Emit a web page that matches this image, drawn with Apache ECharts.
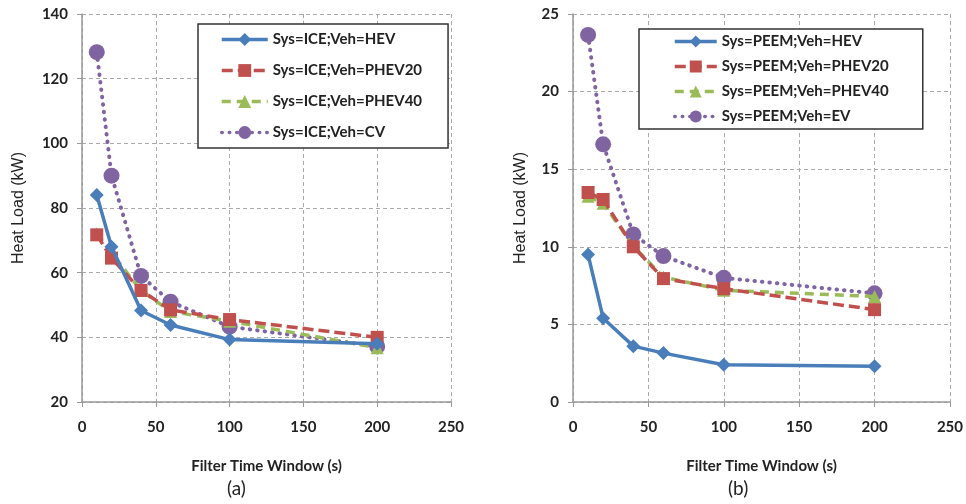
<!DOCTYPE html>
<html><head><meta charset="utf-8">
<script src="https://cdn.jsdelivr.net/npm/echarts@6/dist/echarts.min.js"></script>
<style>html,body{margin:0;padding:0;background:#fff}#c{width:966px;height:504px}</style>
</head><body><div id="c"></div>
<script>
const xVals = [10, 20, 40, 60, 100, 200];
const xTicks = [0, 50, 100, 150, 200, 250];
const iceNames = ['Sys=ICE;Veh=HEV', 'Sys=ICE;Veh=PHEV20', 'Sys=ICE;Veh=PHEV40', 'Sys=ICE;Veh=CV'];
const iceHEV = [84, 68, 48.3, 43.8, 39.3, 38];
const icePHEV20 = [71.7, 64.5, 54.5, 48.5, 45.5, 40];
const icePHEV40 = [72, 66, 54.5, 48, 45, 36.8];
const iceCV = [128.2, 90, 59, 51, 43.3, 37.2];
const peemNames = ['Sys=PEEM;Veh=HEV', 'Sys=PEEM;Veh=PHEV20', 'Sys=PEEM;Veh=PHEV40', 'Sys=PEEM;Veh=EV'];
const peemHEV = [9.5, 5.4, 3.6, 3.15, 2.4, 2.3];
const peemPHEV20 = [13.5, 13.05, 10, 7.95, 7.3, 5.95];
const peemPHEV40 = [13.25, 12.8, 10.05, 8.05, 7.2, 6.8];
const peemEV = [23.65, 16.6, 10.8, 9.4, 8.0, 7.0];
const xName = 'Filter Time Window (s)';
const yName = 'Heat Load (kW)';

const FONT = 'Lato, "Open Sans", sans-serif';
const colors = ['#4A7EBB', '#C0504D', '#9BBB59', '#8064A2'];
const styles = [
  {type: 'solid', cap: 'butt', symbol: 'diamond', size: 14},
  {type: [11, 5], cap: 'butt', symbol: 'rect', size: 13},
  {type: [9, 6], cap: 'butt', symbol: 'triangle', size: 13},
  {type: [0.5, 7], cap: 'round', symbol: 'circle', size: 16}
];
const zip = a => xVals.map((x, i) => [x, a[i]]);

function mkSeries(names, arrs, idx) {
  return arrs.map((a, i) => ({
    name: names[i], type: 'line', xAxisIndex: idx, yAxisIndex: idx,
    data: zip(a), symbol: styles[i].symbol, symbolSize: styles[i].size,
    itemStyle: {color: colors[i]},
    lineStyle: {color: colors[i], width: i === 3 ? 4 : 3.5, type: styles[i].type, cap: styles[i].cap},
    z: 10 - i, animation: false
  }));
}
function xAx(idx) {
  return {
    type: 'value', gridIndex: idx, min: 0, max: 250, interval: 50,
    name: xName, nameLocation: 'middle', nameGap: 57,
    nameTextStyle: {fontFamily: FONT, fontSize: 15, fontWeight: 'bold', color: '#222'},
    axisLine: {lineStyle: {color: '#999', width: 1.5}},
    axisTick: {show: true, length: 5, lineStyle: {color: '#999'}},
    axisLabel: {fontFamily: FONT, fontSize: 15, fontWeight: 'bold', color: '#222', margin: 18},
    splitLine: {show: true, lineStyle: {color: '#aaa', type: [4, 3], width: 1}}
  };
}
function yAx(idx, min, max, interval, gap) {
  return {
    type: 'value', gridIndex: idx, min: min, max: max, interval: interval,
    name: yName, nameLocation: 'middle', nameGap: gap, nameRotate: 90,
    nameTextStyle: {fontFamily: '"Liberation Sans", Arial, sans-serif', fontSize: 16, fontWeight: 'normal', color: '#222'},
    axisLine: {show: true, lineStyle: {color: '#999', width: 1.5}},
    axisTick: {show: true, length: 5, lineStyle: {color: '#999'}},
    axisLabel: {fontFamily: FONT, fontSize: 15, fontWeight: 'bold', color: '#222', margin: 14},
    splitLine: {show: true, lineStyle: {color: '#aaa', type: [4, 3], width: 1}}
  };
}
const legendCommon = {
  orient: 'vertical', backgroundColor: '#fff', borderColor: '#333', borderWidth: 1.5,
  lineStyle: {width: 3.5},
  textStyle: {fontFamily: FONT, fontSize: 15, fontWeight: 'bold', color: '#222'}
};
const chart = echarts.init(document.getElementById('c'), null, {renderer: 'canvas'});
chart.setOption({
  backgroundColor: '#fff',
  animation: false,
  grid: [
    {left: 82, top: 14, width: 369, height: 388},
    {left: 573, top: 14, width: 378, height: 388}
  ],
  xAxis: [xAx(0), xAx(1)],
  yAxis: [yAx(0, 20, 140, 20, 55), yAx(1, 0, 25, 5, 44)],
  legend: [
    Object.assign({}, legendCommon, {data: iceNames, left: 198, top: 24,
      itemWidth: 46, itemHeight: 16, itemGap: 16, padding: [8, 26, 8, 22]}),
    Object.assign({}, legendCommon, {data: peemNames, left: 639, top: 29,
      itemWidth: 42, itemHeight: 15, itemGap: 10, padding: [5, 34, 5, 34]})
  ],
  title: [
    {text: '(a)', left: 222, top: 474, textStyle: {fontFamily: FONT, fontSize: 19, fontWeight: 'normal', color: '#222'}},
    {text: '(b)', left: 723, top: 474, textStyle: {fontFamily: FONT, fontSize: 19, fontWeight: 'normal', color: '#222'}}
  ],
  series: mkSeries(iceNames, [iceHEV, icePHEV20, icePHEV40, iceCV], 0)
    .concat(mkSeries(peemNames, [peemHEV, peemPHEV20, peemPHEV40, peemEV], 1))
});
</script></body></html>
